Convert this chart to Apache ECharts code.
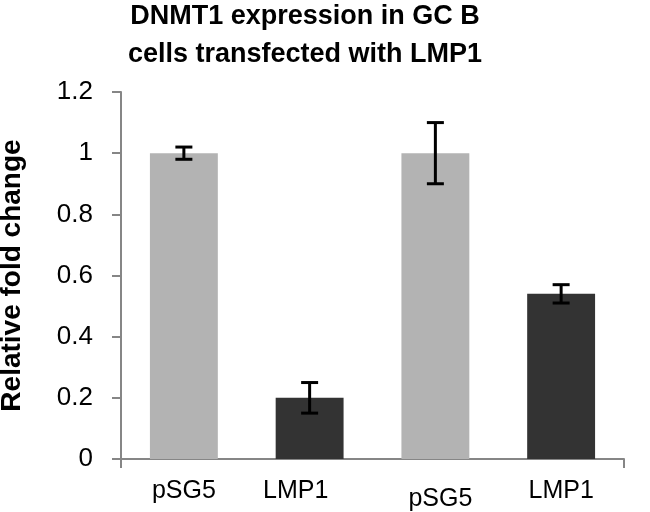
<!DOCTYPE html>
<html>
<head>
<meta charset="utf-8">
<script src="https://cdn.jsdelivr.net/npm/echarts@6/dist/echarts.min.js"></script>
<style>html,body{margin:0;padding:0;background:#fff}#c{width:650px;height:512px}</style>
</head>
<body>
<div id="c"></div>
<script>
var categories = ['pSG5', 'LMP1', 'pSG5', 'LMP1'];
var values = [1.0, 0.2, 1.0, 0.54];
var errLow = [0.98, 0.15, 0.90, 0.51];
var errHigh = [1.02, 0.25, 1.10, 0.57];
var barColors = ['#b3b3b3', '#333333', '#b3b3b3', '#333333'];

var FONT = '"Liberation Sans", Arial, sans-serif';
var chart = echarts.init(document.getElementById('c'), null, {renderer: 'canvas'});
var errData = categories.map(function (c, i) { return [i, errLow[i], errHigh[i]]; });
var labelStyles = ['n', 'l', 'd', 'n'];

chart.setOption({
  animation: false,
  backgroundColor: '#ffffff',
  title: {
    text: 'DNMT1 expression in GC B\ncells transfected with LMP1',
    left: 300, top: -7, textAlign: 'center',
    textStyle: {fontFamily: FONT, fontSize: 27, fontWeight: 'bold', color: '#000', lineHeight: 38}
  },
  grid: {left: 121, right: 26, top: 92, bottom: 53, containLabel: false, outerBoundsMode: 'none'},
  xAxis: [{
    type: 'category', data: categories,
    axisLine: {lineStyle: {color: '#868686', width: 2}},
    axisTick: {show: false},
    axisLabel: {
      interval: 0,
      fontFamily: FONT, fontSize: 25, color: '#000', margin: 20,
      formatter: function (v, i) { return '{' + labelStyles[i] + '|' + v + '}'; },
      rich: {
        n: {fontFamily: FONT, fontSize: 25, color: '#000'},
        l: {fontFamily: FONT, fontSize: 25, color: '#000', padding: [0, 28, 0, 0]},
        d: {fontFamily: FONT, fontSize: 25, color: '#000', padding: [8, 0, 0, 10]}
      }
    }
  }, {
    type: 'value', min: 0, max: 4, interval: 4, position: 'bottom',
    axisLine: {show: false},
    axisTick: {show: true, length: 9, lineStyle: {color: '#868686', width: 2}},
    axisLabel: {show: false}, splitLine: {show: false}
  }],
  yAxis: {
    type: 'value', min: 0, max: 1.2, interval: 0.2,
    name: 'Relative fold change', nameLocation: 'middle', nameGap: 95,
    nameTextStyle: {fontFamily: FONT, fontSize: 28, fontWeight: 'bold', color: '#000'},
    axisLine: {show: true, lineStyle: {color: '#868686', width: 2}},
    axisTick: {show: true, length: 9, lineStyle: {color: '#868686', width: 2}},
    splitLine: {show: false},
    axisLabel: {fontFamily: FONT, fontSize: 26, color: '#000', margin: 28,
      formatter: function (v) { return String(Math.round(v * 10) / 10); }}
  },
  series: [{
    type: 'bar', xAxisIndex: 0, barWidth: '54%',
    data: values.map(function (v, i) { return {value: v, itemStyle: {color: barColors[i]}}; })
  }, {
    type: 'custom', xAxisIndex: 0, data: errData, z: 5,
    renderItem: function (params, api) {
      var x = api.value(0);
      var lo = api.coord([x, api.value(1)]);
      var hi = api.coord([x, api.value(2)]);
      var hw = 8.5;
      var st = {stroke: '#000', lineWidth: 3};
      return {type: 'group', children: [
        {type: 'line', shape: {x1: lo[0], y1: lo[1], x2: hi[0], y2: hi[1]}, style: st},
        {type: 'line', shape: {x1: lo[0] - hw, y1: lo[1], x2: lo[0] + hw, y2: lo[1]}, style: st},
        {type: 'line', shape: {x1: hi[0] - hw, y1: hi[1], x2: hi[0] + hw, y2: hi[1]}, style: st}
      ]};
    }
  }]
});
</script>
</body>
</html>
